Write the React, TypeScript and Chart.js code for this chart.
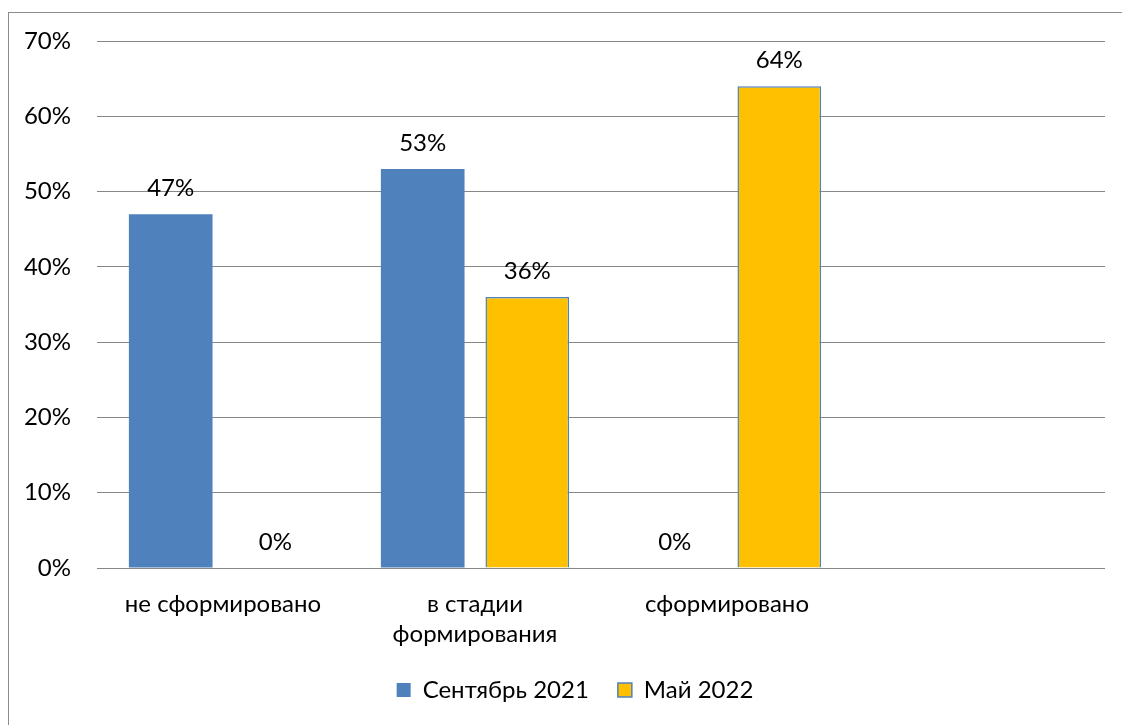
import React, { useEffect, useRef } from "react";
import { Chart, registerables } from "chart.js";

Chart.register(...registerables);

const categories: (string | string[])[] = [
  "не сформировано",
  ["в стадии", "формирования"],
  "сформировано",
  "",
];
const seriesNames = ["Сентябрь 2021", "Май 2022"];
const september2021: (number | null)[] = [47, 53, 0, null];
const may2022: (number | null)[] = [0, 36, 64, null];
const yMin = 0;
const yMax = 70;
const yStep = 10;

const FONT = "Lato, 'Open Sans', sans-serif";
const FS = 24;

const labelPlugin = {
  id: "valueLabels",
  afterDatasetsDraw(chart: any) {
    const ctx = chart.ctx;
    ctx.save();
    ctx.font = `${FS}px ${FONT}`;
    ctx.fillStyle = "#000";
    ctx.textAlign = "center";
    ctx.textBaseline = "middle";
    chart.data.datasets.forEach((ds: any, di: number) => {
      const meta = chart.getDatasetMeta(di);
      meta.data.forEach((el: any, i: number) => {
        const v = ds.data[i];
        if (v === null || v === undefined) return;
        ctx.fillText(`${v}%`, el.x, el.y - 26);
      });
    });
    ctx.restore();
  },
};

const legendShiftPlugin = {
  id: "legendShift",
  afterLayout(chart: any) {
    if (chart.legend) {
      chart.legend.left += 18;
      chart.legend.right += 18;
    }
  },
};

export default function App() {
  const ref = useRef<HTMLCanvasElement | null>(null);
  useEffect(() => {
    if (!ref.current) return;
    const chart = new Chart(ref.current, {
      type: "bar",
      data: {
        labels: categories,
        datasets: [
          {
            label: seriesNames[0],
            data: september2021,
            backgroundColor: "#4F81BD",
            borderWidth: 0,
          },
          {
            label: seriesNames[1],
            data: may2022,
            backgroundColor: "#FFC000",
            borderColor: "#4F81BD",
            borderWidth: 1.5,
          },
        ],
      },
      options: {
        animation: false,
        responsive: false,
        maintainAspectRatio: false,
        layout: { padding: { top: 28, right: 17, bottom: 21, left: 0 } },
        datasets: {
          bar: { categoryPercentage: 0.83, barPercentage: 0.8 },
        },
        scales: {
          x: {
            grid: { display: false, drawTicks: false },
            border: { display: false },
            ticks: {
              color: "#000",
              font: { family: FONT, size: FS, lineHeight: 1.25 },
              padding: 21,
              maxRotation: 0,
              autoSkip: false,
            },
            afterFit(scale: any) {
              scale.height = 81;
              scale.paddingLeft = 0;
              scale.paddingRight = 0;
            },
          },
          y: {
            min: yMin,
            max: yMax,
            grid: { color: "#878787", lineWidth: 1, drawTicks: false },
            border: { display: false },
            ticks: {
              stepSize: yStep,
              color: "#000",
              font: { family: FONT, size: FS },
              padding: 26,
              callback: (v: any) => `${v}%`,
            },
            afterFit(scale: any) {
              scale.width = 88;
              scale.paddingTop = 0;
              scale.paddingBottom = 0;
            },
          },
        },
        plugins: {
          legend: {
            position: "bottom",
            labels: {
              boxWidth: 14,
              boxHeight: 14,
              padding: 29,
              color: "#000",
              font: { family: FONT, size: FS },
            },
          },
          title: { display: false },
          tooltip: { enabled: false },
        },
      },
      plugins: [labelPlugin, legendShiftPlugin],
    });
    return () => chart.destroy();
  }, []);

  return (
    <div
      style={{
        position: "absolute",
        left: 8,
        top: 12,
        width: 1113,
        height: 712,
        borderLeft: "1px solid #8c8c8c",
        borderTop: "1px solid #8c8c8c",
        overflow: "hidden",
        background: "#fff",
      }}
    >
      <canvas ref={ref} width={1113} height={720} style={{ display: "block" }} />
    </div>
  );
}
